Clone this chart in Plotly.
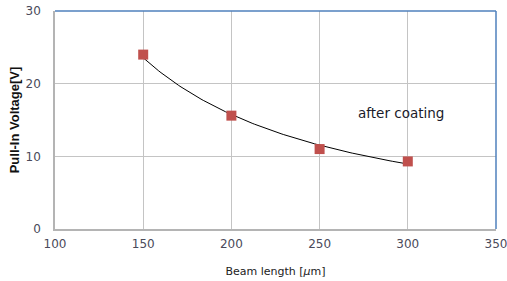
import numpy as np
import plotly.graph_objects as go

beam_length = [150, 200, 250, 300]
pull_in_voltage = [24.0, 15.6, 11.0, 9.3]
x_ticks = [100, 150, 200, 250, 300, 350]
y_ticks = [0, 10, 20, 30]
annotation_text = "after coating"

# power trendline fitted to the measured points
b, ln_a = np.polyfit(np.log(beam_length), np.log(pull_in_voltage), 1)
xs = np.linspace(min(beam_length), max(beam_length), 120)
ys = np.exp(ln_a) * xs ** b

fig = go.Figure()
fig.add_trace(go.Scatter(x=xs, y=ys, mode="lines",
                         line=dict(color="black", width=1), hoverinfo="skip",
                         cliponaxis=False))
fig.add_trace(go.Scatter(x=beam_length, y=pull_in_voltage, mode="markers",
                         marker=dict(symbol="square", size=10, color="#c0504d",
                                     line=dict(width=0)), cliponaxis=False))

tickfont = dict(family="DejaVu Sans", size=12, color="#4a4a5a")
fig.update_layout(
    width=507, height=281,
    margin=dict(l=55, r=11, t=11, b=52),
    paper_bgcolor="white", plot_bgcolor="white",
    showlegend=False,
    xaxis=dict(range=[100, 350], tickvals=x_ticks, showgrid=True, automargin=False,
               gridcolor="#c4c4c4", gridwidth=1, showline=True,
               linecolor="#b4b4b4", linewidth=1.5, zeroline=False,
               tickfont=tickfont, ticks="outside", ticklen=3, tickcolor="white",
               ticklabeloverflow="allow",
               title=dict(text="Beam length [<i>μ</i>m]",
                          font=dict(family="DejaVu Sans", size=11, color="#222222"),
                          standoff=17)),
    yaxis=dict(range=[0, 30], tickvals=y_ticks, showgrid=True, automargin=False,
               gridcolor="#c4c4c4", gridwidth=1, showline=True,
               linecolor="#b4b4b4", linewidth=1.5, zeroline=False,
               tickfont=tickfont, ticks="outside", ticklen=10, tickcolor="white",
               ticklabeloverflow="allow",
               title=dict(text="<b>Pull-In Voltage[V]</b>",
                          font=dict(family="Liberation Sans", size=13, color="#111111"),
                          standoff=3)),
    shapes=[
        dict(type="line", xref="x domain", yref="y domain", x0=0, x1=1, y0=1, y1=1,
             line=dict(color="#4f81bd", width=1.5)),
        dict(type="line", xref="x domain", yref="y domain", x0=1, x1=1, y0=0, y1=1,
             line=dict(color="#4f81bd", width=1.5)),
    ],
    annotations=[dict(x=296, y=16, xref="x", yref="y", text=annotation_text,
                      showarrow=False,
                      font=dict(family="DejaVu Sans", size=13.5, color="#1a1a2a"))],
)
fig.write_html(
    "out.html",
    config={"displayModeBar": False},
    post_script=("document.documentElement.style.margin='0';"
                 "document.documentElement.style.overflow='hidden';"
                 "document.body.style.margin='0';"
                 "document.body.style.overflow='hidden';"),
)
